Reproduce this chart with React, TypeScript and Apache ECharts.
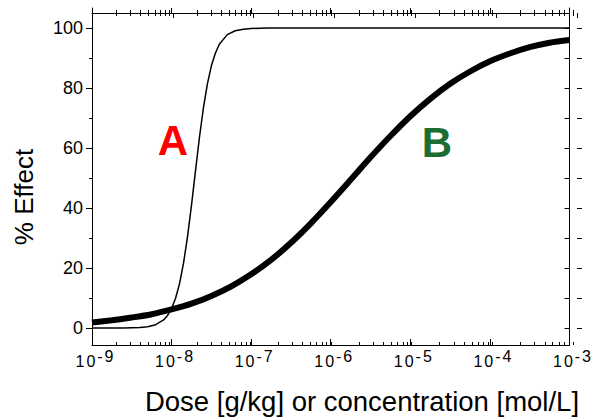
import React, { useEffect, useRef } from "react";
import * as echarts from "echarts";

// ---- data (x values are log10 of dose) ----
const doseExpA = [-9, -8.6, -8.4, -8.3, -8.2, -8.1, -8.05, -8.0, -7.95, -7.9, -7.85, -7.8, -7.75, -7.7, -7.65, -7.6, -7.55, -7.5, -7.45, -7.4, -7.3, -7.2, -7.1, -7.0, -6.8, -3];
const effectA = [0, 0, 0.15, 0.4, 1.1, 2.7, 4.2, 6.5, 9.9, 14.8, 21.6, 30.4, 40.9, 52.3, 63.5, 73.4, 81.4, 87.4, 91.6, 94.6, 97.8, 99.1, 99.6, 99.85, 100, 100];

const doseExpB = [-9, -8.75, -8.5, -8.25, -8, -7.75, -7.5, -7.25, -7, -6.75, -6.5, -6.25, -6, -5.75, -5.5, -5.25, -5, -4.75, -4.5, -4.25, -4, -3.75, -3.5, -3.25, -3];
const effectB = [1.8, 2.6, 3.5, 4.6, 6.2, 8.1, 10.7, 13.9, 17.9, 22.7, 28.4, 34.9, 42.0, 49.4, 56.9, 64.0, 70.6, 76.4, 81.4, 85.5, 88.9, 91.5, 93.6, 95.1, 96.0];

// ---- axes ----
const xMin = -9;
const xMax = -3;
const yMin = -5.67;
const yMax = 106.67;
const decadeExps = [-9, -8, -7, -6, -5, -4, -3];
const minorMultipliers = [2, 3, 4, 5, 6, 7, 8, 9];
const yMajor = [0, 20, 40, 60, 80, 100];
const yMinor = [10, 30, 50, 70, 90];
const yRight = [0, 10, 20, 30, 40, 50, 60, 70, 80, 90, 100];

const xTitle = "Dose [g/kg] or concentration [mol/L]";
const yTitle = "% Effect";

const FONT = "'Liberation Sans', Arial, Helvetica, sans-serif";
const BLACK = "#000";

const minorExps = decadeExps
  .slice(0, -1)
  .flatMap((d) => minorMultipliers.map((m) => d + Math.log10(m)));

function pairs(xs: number[], ys: number[]) {
  return xs.map((x, i) => [x, ys[i]]);
}

function expLabel(v: number) {
  const e = String(Math.round(v));
  const chars = e.split("").map((c) => `{s|${c}}`).join("");
  return `{g|}{d|1}{d|0}${chars}`;
}

const gridBox = { left: 92, right: 18, top: 8, bottom: 74, containLabel: false };

function xAx(gridIndex: number, position: string, extra: any) {
  return {
    type: "value",
    gridIndex,
    position,
    min: xMin,
    max: xMax,
    interval: 1,
    splitLine: { show: false },
    axisLabel: { show: false },
    axisLine: { show: false, lineStyle: { color: BLACK, width: 1 } },
    ...extra,
  };
}

function yAx(gridIndex: number, position: string, extra: any) {
  return {
    type: "value",
    gridIndex,
    position,
    min: yMin,
    max: yMax,
    splitLine: { show: false },
    axisLabel: { show: false },
    axisLine: { show: false, lineStyle: { color: BLACK, width: 1 } },
    ...extra,
  };
}

const tickStyle = { color: BLACK, width: 1 };

export default function App() {
  const ref = useRef<HTMLDivElement>(null);

  useEffect(() => {
    document.body.style.margin = "0";
    if (!ref.current) return;
    const chart = echarts.init(ref.current, undefined, { renderer: "svg" });

    const option: any = {
      animation: false,
      backgroundColor: "#fff",
      grid: [gridBox, gridBox, gridBox, gridBox],
      xAxis: [
        xAx(0, "bottom", {
          axisLine: { show: true, onZero: false, lineStyle: tickStyle },
          axisTick: { show: true, inside: true, length: 6, lineStyle: tickStyle },
          axisLabel: {
            show: true,
            margin: 3,
            color: BLACK,
            fontFamily: FONT,
            fontSize: 16,
            formatter: expLabel,
            rich: {
              g: { fontSize: 16, fontFamily: FONT, lineHeight: 26, width: 5 },
              d: { fontSize: 16, fontFamily: FONT, color: BLACK, lineHeight: 26, padding: [0, 1, 0, 1] },
              s: { fontSize: 16, fontFamily: FONT, color: BLACK, lineHeight: 16, verticalAlign: "top", padding: [0, 1, 0, 1] },
            },
          },
        }),
        xAx(0, "top", {
          offset: -5,
          axisLine: { show: true, onZero: false, lineStyle: tickStyle },
          axisTick: { show: true, inside: false, length: 5, lineStyle: tickStyle },
        }),
        xAx(1, "bottom", {
          axisLine: { show: false, onZero: false },
          axisTick: { show: true, inside: true, length: 3, customValues: minorExps, lineStyle: tickStyle },
        }),
        xAx(1, "top", {
          offset: -5,
          axisLine: { show: false, onZero: false },
          axisTick: { show: true, inside: false, length: 3, customValues: minorExps, lineStyle: tickStyle },
        }),
        xAx(2, "top", {
          offset: -5,
          axisLine: { show: false, onZero: false },
          axisTick: { show: true, inside: true, length: 5, lineStyle: tickStyle },
        }),
        xAx(3, "top", {
          offset: -5,
          axisLine: { show: false, onZero: false },
          axisTick: { show: true, inside: true, length: 3, customValues: minorExps, lineStyle: tickStyle },
        }),
      ],
      yAxis: [
        yAx(0, "left", {
          axisLine: { show: true, onZero: false, lineStyle: tickStyle },
          axisTick: { show: true, inside: false, length: 6, customValues: yMajor, lineStyle: tickStyle },
          axisLabel: {
            show: true,
            customValues: yMajor,
            margin: 9,
            fontSize: 18,
            color: BLACK,
            fontFamily: FONT,
          },
        }),
        yAx(0, "right", {
          axisLine: { show: true, onZero: false, lineStyle: tickStyle },
          axisTick: { show: true, inside: true, length: 5, customValues: yRight, lineStyle: tickStyle },
        }),
        yAx(1, "left", {
          axisTick: { show: true, inside: false, length: 3, customValues: yMinor, lineStyle: tickStyle },
        }),
        yAx(1, "right", {
          axisTick: { show: true, inside: false, length: 5, customValues: yRight, lineStyle: tickStyle },
        }),
        yAx(2, "left", { show: false }),
        yAx(3, "left", { show: false }),
      ],
      series: [
        {
          name: "A",
          type: "line",
          xAxisIndex: 0,
          yAxisIndex: 0,
          data: pairs(doseExpA, effectA),
          showSymbol: false,
          symbol: "none",
          lineStyle: { color: BLACK, width: 1.5 },
          z: 3,
        },
        {
          name: "B",
          type: "line",
          xAxisIndex: 0,
          yAxisIndex: 0,
          data: pairs(doseExpB, effectB),
          showSymbol: false,
          symbol: "none",
          smooth: 0.3,
          lineStyle: { color: BLACK, width: 6 },
          z: 2,
        },
      ],
      graphic: [
        {
          type: "text",
          x: 173,
          y: 140,
          style: {
            text: "A",
            fill: "#ff0000",
            font: `bold 42px ${FONT}`,
            textAlign: "center",
            textVerticalAlign: "middle",
            align: "center",
            verticalAlign: "middle",
          },
        },
        {
          type: "text",
          x: 437,
          y: 142,
          style: {
            text: "B",
            fill: "#1b6d32",
            font: `bold 42px ${FONT}`,
            textAlign: "center",
            textVerticalAlign: "middle",
            align: "center",
            verticalAlign: "middle",
          },
        },
        {
          type: "text",
          x: 362,
          y: 401,
          style: {
            text: xTitle,
            fill: BLACK,
            font: `27.5px ${FONT}`,
            textAlign: "center",
            textVerticalAlign: "middle",
            align: "center",
            verticalAlign: "middle",
          },
        },
        {
          type: "text",
          x: 24,
          y: 197,
          rotation: Math.PI / 2,
          style: {
            text: yTitle,
            fill: BLACK,
            font: `26px ${FONT}`,
            textAlign: "center",
            textVerticalAlign: "middle",
            align: "center",
            verticalAlign: "middle",
          },
        },
      ],
    };

    chart.setOption(option);
    return () => chart.dispose();
  }, []);

  return <div ref={ref} style={{ width: 595, height: 419 }} />;
}
